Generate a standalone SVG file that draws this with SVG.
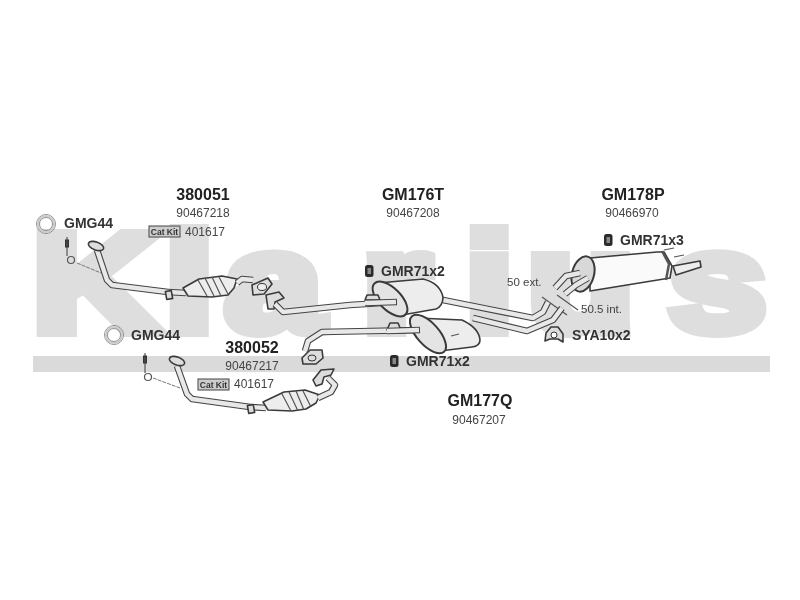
<svg xmlns="http://www.w3.org/2000/svg" width="800" height="600" viewBox="0 0 800 600">
<defs>
<filter id="soft" x="-5%" y="-5%" width="110%" height="110%"><feGaussianBlur stdDeviation="0.45"/></filter>
<g id="clamp"><rect x="0" y="0" width="8.5" height="12" rx="2.5" fill="#2c2c2c"/><rect x="2.5" y="3" width="3.5" height="6" fill="#888"/></g>
<g id="ring"><circle r="9.5" fill="none" stroke="#777" stroke-width="0.8"/><circle r="8" fill="none" stroke="#ccc" stroke-width="2.2"/><circle r="6.5" fill="none" stroke="#777" stroke-width="0.8"/></g>
</defs>
<style>
text{font-family:"Liberation Sans",Arial,sans-serif;fill:#333}
.h{font-size:16px;font-weight:bold;fill:#222;text-anchor:middle}
.n{font-size:12px;fill:#444;text-anchor:middle}
.g{font-size:14px;font-weight:bold;fill:#333}
.d{font-size:11.5px;fill:#444}
.po{fill:none;stroke:#444;stroke-width:6.6;stroke-linejoin:round}
.pi{fill:none;stroke:#e8e8e8;stroke-width:4.4;stroke-linejoin:round}
.b{fill:#ededed;stroke:#3a3a3a;stroke-width:1.6;stroke-linejoin:round}
.e{fill:#e4e4e4;stroke:#3a3a3a;stroke-width:2}
.t{fill:none;stroke:#555;stroke-width:1.2}
.w{fill:none;stroke:#777;stroke-width:1}
.f{fill:#ddd;stroke:#3a3a3a;stroke-width:1.6;stroke-linejoin:round}
.c{fill:#444;stroke:#333}
.k{fill:#ccc;stroke:#444;stroke-width:1}
.kt{font-size:8.5px;font-weight:bold;text-anchor:middle}
</style>
<rect width="800" height="600" fill="#fff"/>
<g filter="url(#soft)">
<g id="watermark">
<text transform="translate(0 331) scale(1.25 1)" x="26 132 180 290 372 422 535" y="0" style="font-size:140px;font-weight:bold;fill:#dedede;stroke:#dedede;stroke-width:12;stroke-linejoin:miter">Klarius</text>
<rect x="33" y="356" width="737" height="16" fill="#dadada"/>
</g>
<g id="connectors">
<path class="w" d="M77 263L101 273M153 378L180 388" stroke-dasharray="4 1"/>
<path class="t" d="M542 297L567 315M557 295L578 310"/>
</g>
<g id="part-380051">
<text class="h" x="203" y="200">380051</text>
<text class="n" x="203" y="217">90467218</text>
<rect class="k" x="149" y="226" width="31" height="11"/>
<text class="kt" x="164.500" y="235">Cat Kit</text>
<text class="n" x="205" y="236">401617</text>
<path class="po" d="M97 250L107 280L112 285L168 292"/><path class="pi" d="M97 250L107 280L112 285L168 292"/>
<path class="po" d="M168 292L186 293"/><path class="pi" d="M168 292L186 293"/>
<path class="b" d="M183 288L199 279L222 276L237 279L234 288L228 295L212 297L188 296Z"/>
<path class="t" d="M198 280L207 296M205 278L214 296M212 277L221 296M219 277L228 294"/>
<path class="po" d="M237 283L242 279L253 280"/><path class="pi" d="M237 283L242 279L253 280"/>
<rect class="f" x="166" y="291" width="6" height="8" transform="rotate(-10 169 295)"/>
<ellipse class="f" cx="96" cy="246" rx="8" ry="4" transform="rotate(20 96 246)"/>
<path class="f" d="M252 285L268 278L272 284L264 294L253 295Z"/><ellipse cx="262" cy="287" rx="4.500" ry="3.500" fill="#eee" stroke="#333"/>
</g>
<g id="part-380052">
<text class="h" x="252" y="353">380052</text>
<text class="n" x="252" y="370">90467217</text>
<rect class="k" x="198" y="379" width="31" height="11"/>
<text class="kt" x="213.500" y="388">Cat Kit</text>
<text class="n" x="254" y="388">401617</text>
<path class="po" d="M177 366L187 394L192 399L250 407"/><path class="pi" d="M177 366L187 394L192 399L250 407"/>
<path class="po" d="M250 407L266 408"/><path class="pi" d="M250 407L266 408"/>
<path class="b" d="M263 402L284 392L305 390L320 395L316 403L306 409L292 411L268 410Z"/>
<path class="t" d="M282 394L291 411M289 392L298 411M296 391L304 410M303 391L311 407"/>
<path class="po" d="M318 398L331 392L335 385L328 378"/><path class="pi" d="M318 398L331 392L335 385L328 378"/>
<rect class="f" x="248" y="405" width="6" height="8" transform="rotate(-10 251 409)"/>
<ellipse class="f" cx="177" cy="361" rx="8" ry="4" transform="rotate(20 177 361)"/>
<path class="f" d="M313 380L321 370L334 369L331 375L324 377L322 384L316 386Z"/>
</g>
<g id="part-gm176t">
<text class="h" x="413" y="200">GM176T</text>
<text class="n" x="413" y="217">90467208</text>
<path class="f" d="M266 295L279 292L284 298L275 302L274 309L268 309Z"/>
<path class="po" d="M275 304L283 312L350 305L397 302"/><path class="pi" d="M275 304L283 312L350 305L397 302"/>
<path class="po" d="M443 300L533 318L543 312L548 302"/><path class="pi" d="M443 300L533 318L543 312L548 302"/>
<path class="b" d="M378 283L423 279Q440 283 443 297Q443 306 436 309L402 315Z"/>
<ellipse class="e" cx="390" cy="299" rx="22" ry="11" transform="rotate(45 390 299)"/>
<path class="f" d="M365 300L367 295H378L380 300Z"/>
<path class="po" d="M365 303L397 302"/><path class="pi" d="M365 303L396 302"/>
</g>
<g id="part-gm177q">
<text class="h" x="480" y="406">GM177Q</text>
<text class="n" x="479" y="424">90467207</text>
<path class="po" d="M305 351L308 341L322 332L420 330"/><path class="pi" d="M305 351L308 341L322 332L420 330"/>
<path class="f" d="M302 358L310 350L322 350L323 358L316 364L303 364Z"/><ellipse cx="312" cy="358" rx="4" ry="3" fill="#ddd" stroke="#333"/>
<path class="po" d="M473 318L527 331L553 320L562 308"/><path class="pi" d="M473 318L527 331L553 320L562 308"/>
<path class="b" d="M417 318L462 320Q479 328 480 340Q480 346 472 347L440 351Z"/>
<ellipse class="e" cx="428" cy="334" rx="24" ry="11" transform="rotate(48 428 334)"/>
<path class="f" d="M387 330L390 323L398 323L401 330Z"/>
<path class="po" d="M387 331L420 330"/><path class="pi" d="M387 331L419 330"/>
<path class="t" d="M451 336L459 334"/>
</g>
<g id="part-gm178p">
<text class="h" x="633" y="200">GM178P</text>
<text class="n" x="632" y="217">90466970</text>
<path class="b" d="M673 266L700 261L701 267L676 275Z"/>
<path class="t" d="M664 250L674 248M674 257L684 255" stroke-width="2"/>
<path class="b" d="M590 258L657 252L664 252L672 266L670 278L590 291Z" style="fill:#fafafa"/>
<path class="t" d="M662 251L669 264L666 280" style="stroke-width:2.5"/>
<ellipse class="e" cx="583" cy="274" rx="11" ry="18" transform="rotate(15 583 274)" style="fill:#d8d8d8"/>
<path class="po" d="M555 288L566 276L580 273"/><path class="pi" d="M555 288L566 276L580 273"/>
<path class="po" d="M565 294L576 285L588 278"/><path class="pi" d="M565 294L576 285L588 278"/>
</g>
<g id="dim-labels">
<text class="d" x="507" y="286">50 ext.</text>
<text class="d" x="581" y="313">50.5 int.</text>
</g>
<g id="gmg44-1">
<use href="#ring" x="46" y="224"/>
<text class="g" x="64" y="228">GMG44</text>
<path class="t" d="M67 237V256"/><rect class="c" x="65.500" y="240" width="3" height="7"/><circle class="t" cx="71" cy="260" r="3.500"/>
</g>
<g id="gmg44-2">
<use href="#ring" x="114" y="335"/>
<text class="g" x="131" y="340">GMG44</text>
<path class="t" d="M145 353V373"/><rect class="c" x="143.500" y="356" width="3" height="7"/><circle class="t" cx="148" cy="377" r="3.500"/>
</g>
<g id="gmr71x2-1">
<use href="#clamp" x="365" y="265"/>
<text class="g" x="381" y="276">GMR71x2</text>
</g>
<g id="gmr71x2-2">
<use href="#clamp" x="390" y="355"/>
<text class="g" x="406" y="366">GMR71x2</text>
</g>
<g id="gmr71x3">
<use href="#clamp" x="604" y="234"/>
<text class="g" x="620" y="245">GMR71x3</text>
</g>
<g id="sya10x2">
<path class="f" d="M545 341L546 333L551 327L558 327L563 334L563 342L558 339H550Z"/>
<circle cx="554" cy="335" r="3" fill="#fff" stroke="#333"/>
<text class="g" x="572" y="340">SYA10x2</text>
</g>
</g>
</svg>
